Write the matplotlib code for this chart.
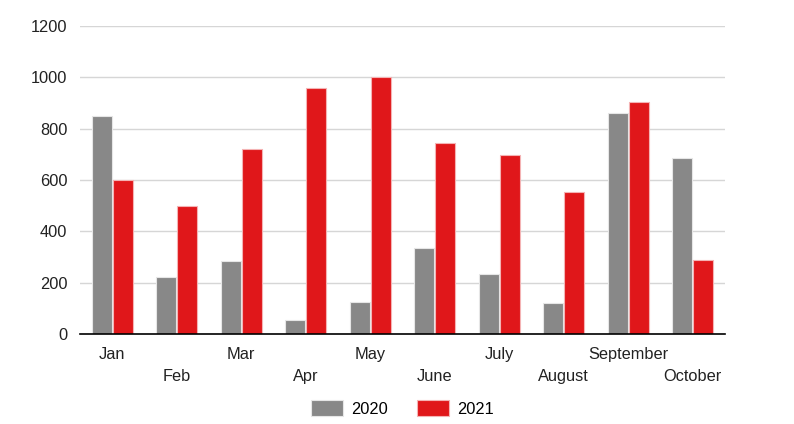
import matplotlib.pyplot as plt
import numpy as np

plt.rcParams['font.family'] = ['Liberation Sans', 'DejaVu Sans']

months = ['Jan', 'Feb', 'Mar', 'Apr', 'May', 'June', 'July', 'August', 'September', 'October']
sales_2020 = [850, 222, 285, 55, 125, 334, 233, 121, 861, 686]
sales_2021 = [601, 499, 719, 958, 1001, 744, 699, 554, 904, 289]

fig = plt.figure(figsize=(7.94, 4.24), dpi=100)
ax = fig.add_axes([80 / 794, 1 - 334 / 424, 645 / 794, 308 / 424])

pos = np.arange(len(months))
w = 0.31
ax.bar(pos - w / 2 - 0.01, sales_2020, width=w, color='#888888', edgecolor='#e6e6e6', linewidth=0.8, label='2020', zorder=3)
ax.bar(pos + w / 2 + 0.01, sales_2021, width=w, color='#e0171a', edgecolor='#f4b3b4', linewidth=0.8, label='2021', zorder=3)

ax.set_xlim(-0.5, len(months) - 0.5)
ax.set_ylim(0, 1200)
ax.set_yticks(range(0, 1201, 200))
ax.yaxis.grid(True, color='#d6d6d6', linewidth=1)
ax.set_axisbelow(True)

for s in ['top', 'right', 'left']:
    ax.spines[s].set_visible(False)
ax.spines['bottom'].set_color('black')
ax.spines['bottom'].set_linewidth(1.2)
ax.spines['bottom'].set_zorder(4)

fs = 11.8
ax.tick_params(axis='y', length=0, pad=9, labelsize=fs, labelcolor='#222222')
ax.set_xticks(pos)
ax.set_xticklabels([])
ax.tick_params(axis='x', length=0)

# staggered month labels
for i, m in enumerate(months):
    y = -0.042 if i % 2 == 0 else -0.114
    ax.text(i, y, m, transform=ax.get_xaxis_transform(), ha='center', va='top',
            fontsize=fs, color='#222222')

ax.legend(loc='upper center', bbox_to_anchor=(0.5, -0.165), ncol=2, frameon=False,
          fontsize=fs, handlelength=1.95, handleheight=1.2, columnspacing=1.75,
          handletextpad=0.5)

fig.savefig('out.png', dpi=100)
